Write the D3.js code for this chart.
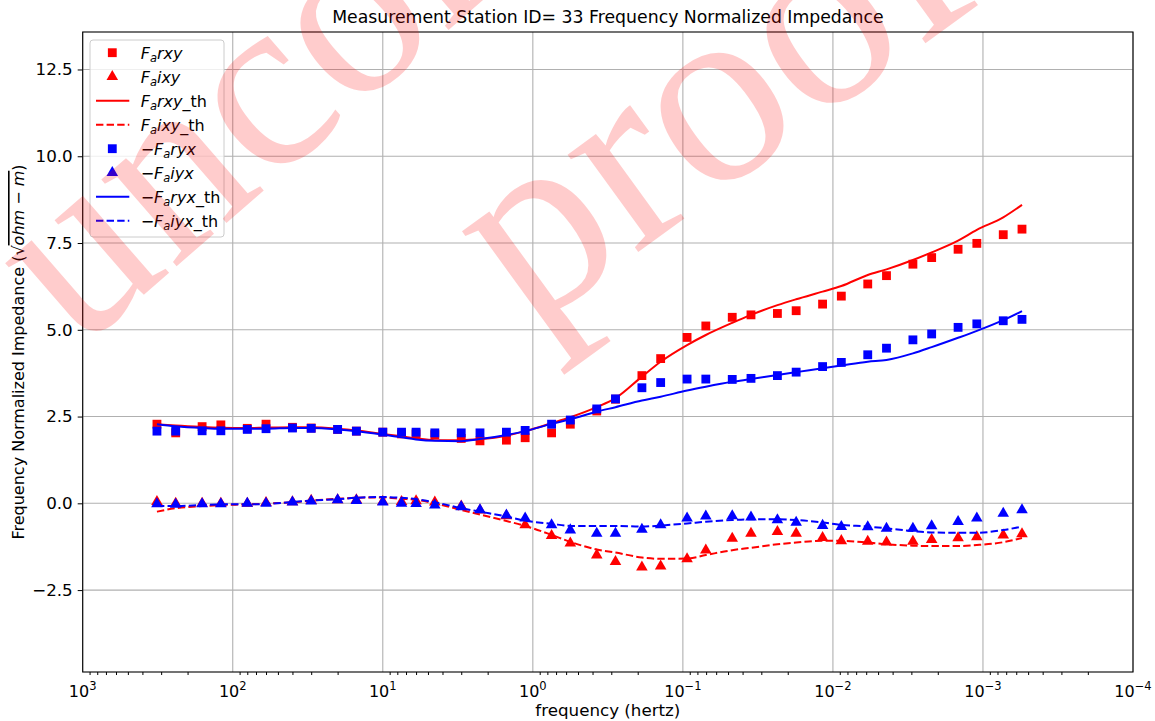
<!DOCTYPE html>
<html>
<head>
<meta charset="utf-8">
<script src="https://cdn.jsdelivr.net/npm/d3@7"></script>
<style>
body{margin:0;background:#fff;}
text{font-family:"DejaVu Sans",sans-serif;fill:#000;}
</style>
</head>
<body>
<script>
// frequencies (hertz), high to low
var freq = [320, 240, 160, 120, 80, 60, 40, 30, 20, 15, 10, 7.5, 6, 4.5, 3, 2.25, 1.5, 1.125, 0.75, 0.5625,
            0.375, 0.28125, 0.1875, 0.140625, 0.09375, 0.0703125, 0.046875, 0.03515625, 0.0234375, 0.017578125,
            0.01171875, 0.0087890625, 0.005859375, 0.0043945, 0.0029297, 0.0021973, 0.0014648, 0.0010986, 0.00073242, 0.00054932];

// measured (markers)
var rxy = [2.28, 2.03, 2.21, 2.26, 2.16, 2.28, 2.19, 2.17, 2.13, 2.08, 2.05, 2.0, 2.0, 1.98, 1.87, 1.80, 1.82, 1.89, 2.03, 2.28,
           2.66, 3.0, 3.68, 4.17, 4.78, 5.11, 5.36, 5.43, 5.47, 5.55, 5.74, 5.97, 6.32, 6.56, 6.89, 7.08, 7.32, 7.49, 7.74, 7.90];
var ixy = [0.05, 0.0, 0.0, 0.0, 0.0, 0.02, 0.04, 0.08, 0.1, 0.1, 0.05, 0.05, 0.07, 0.03, -0.08, -0.2, -0.36, -0.62, -0.93, -1.15,
           -1.49, -1.68, -1.84, -1.81, -1.60, -1.35, -1.01, -0.87, -0.82, -0.87, -0.99, -1.08, -1.10, -1.12, -1.10, -1.05, -1.0, -0.97, -0.92, -0.88];
var ryx = [2.08, 2.08, 2.09, 2.09, 2.13, 2.15, 2.17, 2.16, 2.13, 2.08, 2.05, 2.05, 2.05, 2.03, 2.03, 2.03, 2.05, 2.10, 2.28, 2.40,
           2.72, 3.01, 3.33, 3.48, 3.58, 3.58, 3.57, 3.60, 3.68, 3.78, 3.94, 4.06, 4.28, 4.47, 4.71, 4.88, 5.07, 5.17, 5.26, 5.30];
var iyx = [-0.02, -0.03, -0.02, -0.02, 0.0, 0.0, 0.03, 0.06, 0.1, 0.08, 0.03, 0.0, -0.01, -0.05, -0.1, -0.19, -0.34, -0.43, -0.62, -0.77,
           -0.87, -0.87, -0.75, -0.62, -0.43, -0.37, -0.36, -0.40, -0.48, -0.55, -0.64, -0.67, -0.68, -0.72, -0.72, -0.65, -0.53, -0.43, -0.29, -0.19];

// theoretical (lines)
var rxyTh = [2.28, 2.24, 2.20, 2.18, 2.17, 2.18, 2.19, 2.19, 2.15, 2.10, 2.0, 1.93, 1.87, 1.82, 1.82, 1.85, 1.95, 2.08, 2.31, 2.48,
             2.77, 3.03, 3.65, 4.08, 4.56, 4.85, 5.20, 5.43, 5.71, 5.88, 6.10, 6.26, 6.58, 6.74, 7.01, 7.23, 7.57, 7.88, 8.24, 8.60];
var ixyTh = [-0.24, -0.14, -0.08, -0.05, -0.03, -0.01, 0.03, 0.08, 0.13, 0.16, 0.17, 0.13, 0.1, 0.0, -0.19, -0.32, -0.51, -0.65, -0.91, -1.11,
             -1.33, -1.42, -1.56, -1.60, -1.59, -1.49, -1.35, -1.28, -1.18, -1.13, -1.08, -1.08, -1.13, -1.18, -1.22, -1.23, -1.23, -1.20, -1.12, -1.0];
var ryxTh = [2.28, 2.22, 2.17, 2.15, 2.15, 2.15, 2.17, 2.17, 2.13, 2.08, 1.98, 1.90, 1.84, 1.80, 1.79, 1.85, 1.97, 2.08, 2.29, 2.42,
             2.64, 2.77, 2.96, 3.07, 3.25, 3.36, 3.50, 3.58, 3.70, 3.78, 3.89, 3.97, 4.08, 4.13, 4.32, 4.50, 4.77, 4.97, 5.28, 5.54];
var iyxTh = [-0.08, -0.08, -0.05, -0.03, -0.03, -0.02, 0.04, 0.08, 0.12, 0.16, 0.18, 0.16, 0.12, 0.03, -0.14, -0.24, -0.38, -0.50, -0.59, -0.65,
             -0.65, -0.65, -0.67, -0.64, -0.58, -0.53, -0.48, -0.46, -0.46, -0.48, -0.55, -0.62, -0.67, -0.72, -0.80, -0.84, -0.85, -0.85, -0.77, -0.67];

var xTicks = [3, 2, 1, 0, -1, -2, -3, -4];          // exponents of 10
var yTicks = [-2.5, 0, 2.5, 5, 7.5, 10, 12.5];

var width = 1155, height = 721;
var margin = {left:82.7, right:22, top:32, bottom:49};

var x = d3.scaleLog().domain([1e3, 1e-4]).range([margin.left, width - margin.right]);
var y = d3.scaleLinear().domain([-4.86, 13.58]).range([height - margin.bottom, margin.top]);

var svg = d3.select("body").append("svg").attr("width", width).attr("height", height);

// grid
var grid = svg.append("g");
grid.selectAll(".gx").data(xTicks).enter().append("line")
    .attr("x1", function(d){ return x(Math.pow(10, d)); }).attr("x2", function(d){ return x(Math.pow(10, d)); })
    .attr("y1", margin.top).attr("y2", height - margin.bottom)
    .attr("stroke", "#b0b0b0").attr("stroke-width", 1.1);
grid.selectAll(".gy").data(yTicks).enter().append("line")
    .attr("x1", margin.left).attr("x2", width - margin.right)
    .attr("y1", function(d){ return y(d); }).attr("y2", function(d){ return y(d); })
    .attr("stroke", "#b0b0b0").attr("stroke-width", 1.1);

// series
var series = [
  {vals: rxy,   color: "red",  kind: "square", neg: false, comp: "rxy", th: false},
  {vals: ixy,   color: "red",  kind: "tri",    neg: false, comp: "ixy", th: false},
  {vals: rxyTh, color: "red",  kind: "solid",  neg: false, comp: "rxy", th: true},
  {vals: ixyTh, color: "red",  kind: "dash",   neg: false, comp: "ixy", th: true},
  {vals: ryx,   color: "blue", kind: "square", neg: true,  comp: "ryx", th: false},
  {vals: iyx,   color: "blue", kind: "tri",    neg: true,  comp: "iyx", th: false},
  {vals: ryxTh, color: "blue", kind: "solid",  neg: true,  comp: "ryx", th: true},
  {vals: iyxTh, color: "blue", kind: "dash",   neg: true,  comp: "iyx", th: true}
];

var line = d3.line()
    .x(function(d, i){ return x(freq[i]); })
    .y(function(d){ return y(d); })
    .curve(d3.curveMonotoneX);

var sq = d3.symbol().type(d3.symbolSquare).size(78);
var tri = d3.symbol().type(d3.symbolTriangle).size(58);

var plot = svg.append("g");
series.forEach(function(s){
  if (s.kind == "solid" || s.kind == "dash") {
    plot.append("path").attr("d", line(s.vals)).attr("fill", "none")
        .attr("stroke", s.color).attr("stroke-width", 2)
        .attr("stroke-dasharray", s.kind == "dash" ? "7.4,3.2" : null);
  } else {
    plot.selectAll(null).data(s.vals).enter().append("path")
        .attr("d", s.kind == "square" ? sq() : tri())
        .attr("transform", function(d, i){ return "translate(" + x(freq[i]) + "," + y(d) + ")"; })
        .attr("fill", s.color);
  }
});

// frame
svg.append("rect").attr("x", margin.left).attr("y", margin.top)
   .attr("width", width - margin.left - margin.right).attr("height", height - margin.top - margin.bottom)
   .attr("fill", "none").attr("stroke", "#000").attr("stroke-width", 1.1);

// x axis: major + minor ticks
var minor = [];
for (var e = 3; e > -4; e--) for (var m = 2; m <= 9; m++) minor.push(m * Math.pow(10, e - 1));
var xAxisG = svg.append("g").attr("transform", "translate(0," + (height - margin.bottom) + ")");
xAxisG.call(d3.axisBottom(x).tickValues(xTicks.map(function(d){ return Math.pow(10, d); })).tickSize(5).tickFormat(""));
xAxisG.call(d3.axisBottom(x).tickValues(minor).tickSize(3).tickFormat("")).select(".domain").remove();
xAxisG.selectAll(".tick line").attr("stroke", "#000").attr("stroke-width", 1);
xAxisG.selectAll(".domain").remove();

var xl = svg.append("g").selectAll("text").data(xTicks).enter().append("text")
    .attr("x", function(d){ return x(Math.pow(10, d)); }).attr("y", 697)
    .attr("text-anchor", "middle").style("font-size", "16px");
xl.append("tspan").text("10");
xl.append("tspan").attr("dy", -7).style("font-size", "11.5px")
  .text(function(d){ return d < 0 ? "\u2212" + Math.abs(d) : d; });

// y axis
var yAxisG = svg.append("g").attr("transform", "translate(" + margin.left + ",0)")
    .call(d3.axisLeft(y).tickValues(yTicks).tickSize(5).tickPadding(5)
          .tickFormat(function(d){ return d < 0 ? "\u2212" + Math.abs(d).toFixed(1) : d.toFixed(1); }));
yAxisG.select(".domain").remove();
yAxisG.selectAll(".tick line").attr("stroke", "#000").attr("stroke-width", 1);
yAxisG.selectAll(".tick text").style("font-size", "16.7px").attr("font-family", null);

// title and axis labels
svg.append("text").attr("x", (margin.left + width - margin.right) / 2).attr("y", 23)
   .attr("text-anchor", "middle").style("font-size", "17.3px")
   .text("Measurement Station ID= 33 Frequency Normalized Impedance");
svg.append("text").attr("x", (margin.left + width - margin.right) / 2).attr("y", 716)
   .attr("text-anchor", "middle").style("font-size", "16.7px").text("frequency (hertz)");

var yl = svg.append("text").attr("transform", "translate(24," + ((margin.top + height - margin.bottom) / 2) + ") rotate(-90)")
   .attr("text-anchor", "middle").style("font-size", "16px");
yl.append("tspan").text("Frequency Normalized Impedance  (\u221A");
yl.append("tspan").style("font-style", "italic").attr("text-decoration", "overline").text("ohm \u2212 m");
yl.append("tspan").text(")");

// legend
var leg = svg.append("g").attr("transform", "translate(90,40)");
leg.append("rect").attr("width", 134).attr("height", 197).attr("rx", 3)
   .attr("fill", "#fff").attr("fill-opacity", 0.8).attr("stroke", "#ccc").attr("stroke-width", 1);
series.forEach(function(s, i){
  var row = leg.append("g").attr("transform", "translate(0," + (12.7 + i * 24) + ")");
  if (s.kind == "square") row.append("path").attr("d", sq()).attr("transform", "translate(22.3,0)").attr("fill", s.color);
  else if (s.kind == "tri") row.append("path").attr("d", tri()).attr("transform", "translate(22.3,0)").attr("fill", s.color);
  else row.append("line").attr("x1", 6).attr("x2", 39.3).attr("stroke", s.color).attr("stroke-width", 2)
          .attr("stroke-dasharray", s.kind == "dash" ? "7.4,3.2" : null);
  var t = row.append("text").attr("x", 50.7).attr("y", 6).style("font-size", "16px");
  if (s.neg) t.append("tspan").text("\u2212");
  t.append("tspan").style("font-style", "italic").text("F");
  t.append("tspan").style("font-style", "italic").style("font-size", "11.5px").attr("dy", 3.5).text("a");
  t.append("tspan").style("font-style", "italic").attr("dy", -3.5).text(s.comp);
  if (s.th) t.append("tspan").text("_th");
});

// watermark
var wm = svg.append("g").style("pointer-events", "none");
wm.append("text").attr("transform", "translate(78,352) rotate(-41)")
  .style("font-family", "'Liberation Serif', serif").style("font-size", "250px")
  .style("fill", "red").style("fill-opacity", 0.2).text("uncorrected proof");
wm.append("text").attr("transform", "translate(528,332) rotate(-36)")
  .style("font-family", "'Liberation Serif', serif").style("font-size", "262px")
  .style("fill", "red").style("fill-opacity", 0.2).text("proof");
</script>
</body>
</html>
